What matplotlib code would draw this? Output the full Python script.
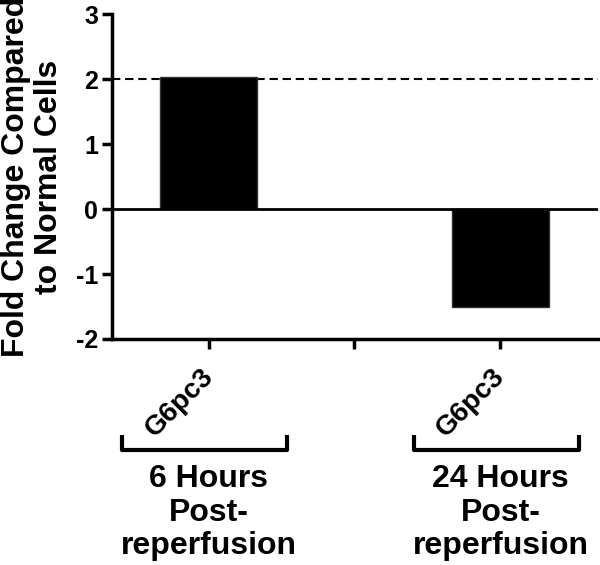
import matplotlib.pyplot as plt
import matplotlib.transforms as mtransforms

plt.rcParams['font.family'] = ['Liberation Sans', 'DejaVu Sans']
plt.rcParams['font.weight'] = 'bold'
plt.rcParams['axes.unicode_minus'] = False

# data
positions = [0, 2]
values = [2.04, -1.5]
tick_labels = ['G6pc3', 'G6pc3']
groups = ['6 Hours\nPost-\nreperfusion', '24 Hours\nPost-\nreperfusion']
threshold = 2

fig = plt.figure(figsize=(6, 5.65), dpi=100)
ax = fig.add_axes([0.187, 0.4, 0.81, 0.575])

ax.bar(positions, values, width=0.66, color='black', edgecolor='#333333', linewidth=1, zorder=2)
ax.axhline(0, color='black', lw=2, zorder=3)
ax.axhline(threshold, color='black', lw=1.5, ls=(0, (4, 2.3)), zorder=1)

ax.set_xlim(-0.66, 2.67)
ax.set_ylim(-2, 3)
ax.set_yticks([-2, -1, 0, 1, 2, 3])
ax.set_xticks([0, 1, 2])
ax.set_xticklabels([])

for s in ['top', 'right']:
    ax.spines[s].set_visible(False)
for s in ['left', 'bottom']:
    ax.spines[s].set_linewidth(2.5)
ax.tick_params(axis='y', length=7, width=2.5, labelsize=18, pad=3)
ax.tick_params(axis='x', length=7, width=2.5)

ax.set_ylabel('Fold Change Compared\nto Normal Cells', fontsize=23, fontweight='bold', linespacing=1.1)
ax.yaxis.set_label_coords(-0.1, 0.5)

# rotated category labels, group brackets and labels
trans = mtransforms.blended_transform_factory(ax.transData, ax.transAxes)
lab_trans = mtransforms.offset_copy(trans, fig=fig, x=10, y=-25, units='dots')
for x, t, g in zip(positions, tick_labels, groups):
    ax.text(x, 0, t, transform=lab_trans, rotation=45, ha='right', va='top',
            fontsize=20, fontweight='bold')
    ax.plot([x - 0.59, x - 0.59, x + 0.54, x + 0.54], [-0.295, -0.342, -0.342, -0.295],
            color='black', lw=3, transform=trans, clip_on=False, solid_capstyle='butt')
    ax.text(x, -0.385, g, transform=trans, ha='center', va='top', fontsize=23,
            fontweight='bold', linespacing=1.15)

fig.savefig('out.png', dpi=100)
